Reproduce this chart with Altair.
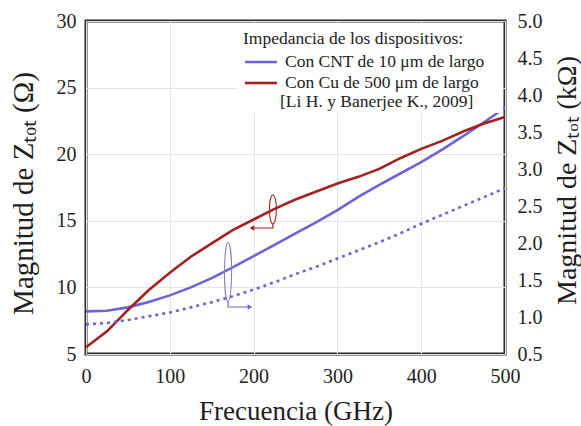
import altair as alt
import pandas as pd

# Frequency sweep (GHz) and impedance magnitudes
freq_ghz = [0, 25, 50, 75, 100, 125, 150, 175, 200, 225, 250,
            275, 300, 325, 350, 375, 400, 425, 450, 475, 500]
cnt_ohm = [8.2, 8.25, 8.5, 8.9, 9.4, 10.0, 10.7, 11.5, 12.35, 13.2, 14.05,
           14.9, 15.8, 16.8, 17.7, 18.55, 19.4, 20.35, 21.35, 22.4, 23.5]
cu_ohm = [5.5, 6.7, 8.3, 9.8, 11.1, 12.3, 13.3, 14.3, 15.1, 15.9, 16.6,
          17.2, 17.8, 18.3, 18.9, 19.7, 20.4, 21.0, 21.7, 22.3, 22.8]
cnt_kohm = [0.90, 0.92, 0.96, 1.01, 1.06, 1.13, 1.20, 1.28, 1.37, 1.47, 1.58,
            1.68, 1.79, 1.90, 2.01, 2.13, 2.26, 2.38, 2.50, 2.62, 2.74]

series_names = ["CNT", "Cu"]
series_colors = ["#6c63d9", "#a3211f"]

left_ticks = [5, 10, 15, 20, 25, 30]
right_ticks = [0.5, 1.0, 1.5, 2.0, 2.5, 3.0, 3.5, 4.0, 4.5, 5.0]
x_ticks = [0, 100, 200, 300, 400, 500]

legend_title = "Impedancia de los dispositivos:"
legend_labels = ["Con CNT de 10 μm de largo", "Con Cu de 500 μm de largo"]
legend_note = "[Li H. y Banerjee K., 2009]"

# Axis markers: ellipse around a curve with an elbow arrow to its axis
blue_ellipse = {"freq": 169.5, "val": 11.16}
red_ellipse = {"freq": 223.0, "val": 15.85}
blue_arrow_f = [169.5, 169.5, 195.7]
blue_arrow_v = [8.95, 8.53, 8.53]
red_arrow_f = [223.0, 223.0, 198.0]
red_arrow_v = [14.76, 14.46, 14.46]

SERIF = "Liberation Serif"
W, H = 419, 333
LO, HI = 5.0, 30.0        # left axis (Ω)
KLO, KHI = 0.5, 5.0       # right axis (kΩ)


def k_to_ohm_pos(k):
    """Position of a kΩ value on the shared Ω scale."""
    return LO + (k - KLO) * (HI - LO) / (KHI - KLO)


y_scale = alt.Scale(domain=[LO, HI], nice=False)
x_enc = alt.X(
    "freq:Q",
    scale=alt.Scale(domain=[0, 500], nice=False),
    axis=alt.Axis(values=x_ticks, title="Frecuencia (GHz)",
                  labelPadding=12, titlePadding=12, labelFlush=False),
)

left_df = pd.DataFrame({
    "freq": freq_ghz * 2,
    "val": cnt_ohm + cu_ohm,
    "serie": ["CNT"] * len(freq_ghz) + ["Cu"] * len(freq_ghz),
})
right_df = pd.DataFrame({"freq": freq_ghz, "kohm": cnt_kohm})

lines = alt.Chart(left_df).mark_line(strokeWidth=2.6).encode(
    x=x_enc,
    y=alt.Y("val:Q", scale=y_scale,
            axis=alt.Axis(values=left_ticks, title="Magnitud de Zₜₒₜ (Ω)",
                          labelPadding=10, labelFlush=False, titleFontSize=29,
                          titleX=-63, titleY=172, titleAngle=270,
                          titleAlign="center", titleBaseline="middle")),
    color=alt.Color("serie:N", scale=alt.Scale(domain=series_names, range=series_colors),
                    legend=None),
)

dotted = alt.Chart(right_df).transform_calculate(
    pos=f"{LO} + (datum.kohm - {KLO}) * {HI - LO} / {KHI - KLO}"
).mark_line(strokeWidth=2.6, strokeDash=[3, 4], color="#6c63d9").encode(
    x=x_enc,
    y=alt.Y("pos:Q", scale=y_scale,
            axis=alt.Axis(orient="right", values=[k_to_ohm_pos(k) for k in right_ticks],
                          labelExpr=f"format((datum.value - {LO}) * {KHI - KLO} / {HI - LO} + {KLO}, '.1f')",
                          title="Magnitud de Zₜₒₜ (kΩ)", grid=False, titleFontSize=28,
                          titleX=62, titleY=159, titleAngle=270,
                          titleAlign="center", titleBaseline="middle",
                          labelPadding=12, labelFlush=False)),
)


def ellipse_path(ratio):
    return f"M0,-1 A{ratio},1 0 1,1 0,1 A{ratio},1 0 1,1 0,-1 Z"


y_plain = alt.Y("val:Q", scale=y_scale, axis=None)

blue_ell = alt.Chart(pd.DataFrame([blue_ellipse])).mark_point(
    shape=ellipse_path(0.12), size=59 ** 2, filled=False, color="#8580c8",
    strokeWidth=1.1, opacity=1,
).encode(x=x_enc, y=y_plain)
red_ell = alt.Chart(pd.DataFrame([red_ellipse])).mark_point(
    shape=ellipse_path(0.24), size=29 ** 2, filled=False, color="#a3211f",
    strokeWidth=1.1, opacity=1,
).encode(x=x_enc, y=y_plain)

blue_arrow_df = pd.DataFrame({"freq": blue_arrow_f, "val": blue_arrow_v,
                              "k": range(len(blue_arrow_f))})
red_arrow_df = pd.DataFrame({"freq": red_arrow_f, "val": red_arrow_v,
                             "k": range(len(red_arrow_f))})
blue_arrow = alt.Chart(blue_arrow_df).mark_line(color="#6c63d9", strokeWidth=1.2).encode(
    x=x_enc, y=y_plain, order="k:Q")
red_arrow = alt.Chart(red_arrow_df).mark_line(color="#a3211f", strokeWidth=1.2).encode(
    x=x_enc, y=y_plain, order="k:Q")
blue_head = alt.Chart(blue_arrow_df.tail(1)).mark_point(
    shape="triangle-right", size=28, filled=True, color="#6c63d9", opacity=1
).encode(x=x_enc, y=y_plain)
red_head = alt.Chart(red_arrow_df.tail(1)).mark_point(
    shape="triangle-left", size=28, filled=True, color="#a3211f", opacity=1
).encode(x=x_enc, y=y_plain)

# Legend block drawn inside the plot area
one = alt.Data(values=[{}])
FS = 17.5
legend_bg = alt.Chart(one).mark_rect(color="white").encode(
    x=alt.value(151), x2=alt.value(417), y=alt.value(3), y2=alt.value(92))
legend_head = alt.Chart(one).mark_text(
    text=legend_title, font=SERIF, fontSize=FS, align="left", baseline="middle", color="#222"
).encode(x=alt.value(157), y=alt.value(18))
legend_items = []
for i, (lab, col) in enumerate(zip(legend_labels, series_colors)):
    yy = 41 + 21 * i
    legend_items.append(alt.Chart(one).mark_rule(strokeWidth=2.6, color=col).encode(
        x=alt.value(159), x2=alt.value(191), y=alt.value(yy)))
    legend_items.append(alt.Chart(one).mark_text(
        text=lab, font=SERIF, fontSize=FS, align="left", baseline="middle", color="#222"
    ).encode(x=alt.value(199), y=alt.value(yy)))
legend_ref = alt.Chart(one).mark_text(
    text=legend_note, font=SERIF, fontSize=FS, align="left", baseline="middle", color="#222"
).encode(x=alt.value(194), y=alt.value(81))

chart = alt.layer(
    lines, dotted, legend_bg, blue_ell, red_ell, blue_arrow, red_arrow, blue_head, red_head,
    legend_head, *legend_items, legend_ref,
).resolve_axis(y="independent").properties(
    width=W, height=H,
    autosize=alt.AutoSizeParams(type="none"),
    padding={"left": 86, "top": 21, "right": 76, "bottom": 72},
    background="white",
).configure_axis(
    labelFont=SERIF, labelFontSize=20, labelColor="#1e1e1e",
    titleFont=SERIF, titleFontSize=27, titleFontWeight="normal", titleColor="#1e1e1e",
    gridColor="#e4e4e4", gridWidth=1, domain=False, ticks=False, labelOverlap=False,
).configure_view(stroke="#2b2b2b", strokeWidth=3)

chart.save("out.html", embed_options={"renderer": "svg", "actions": False})
